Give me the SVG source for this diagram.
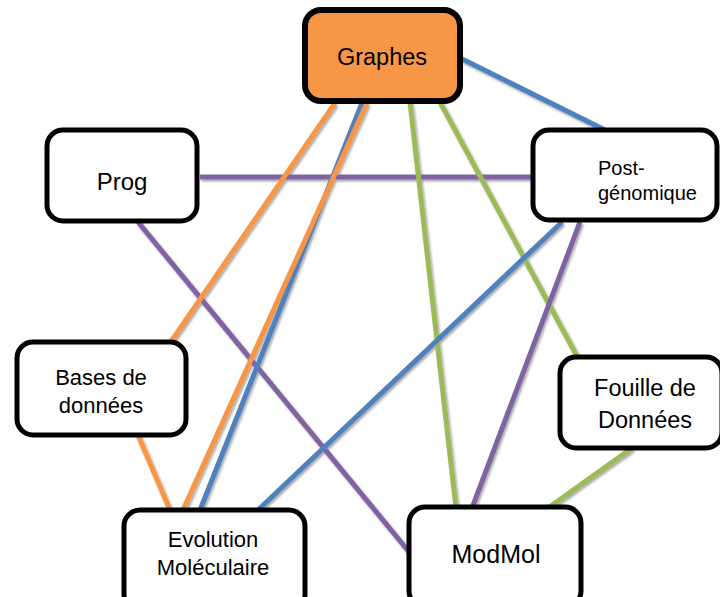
<svg xmlns="http://www.w3.org/2000/svg" width="720" height="597" viewBox="0 0 720 597">
<defs>
<filter id="sh" x="-10%" y="-10%" width="120%" height="120%">
<feDropShadow dx="1.5" dy="2" stdDeviation="1.2" flood-color="#000" flood-opacity="0.35"/>
</filter>
</defs>
<style>
.box{fill:#fff;stroke:#000;stroke-width:5}
.hub{fill:#F79646;stroke:#000;stroke-width:6}
.t{font-family:"Liberation Sans","Open Sans",sans-serif;fill:#000;font-size:22px;text-anchor:middle}
.c{stroke-width:5;fill:none;stroke-linecap:butt}
.o{stroke:#F79646}.b{stroke:#4F81BD}.g{stroke:#9BBB59}.p{stroke:#8064A2}
</style>
<rect width="720" height="597" fill="#fff"/>
<g id="connectors" filter="url(#sh)">
<line class="c b" x1="460" y1="58" x2="605" y2="130"/>
<line class="c p" x1="200" y1="177" x2="532" y2="177"/>
<line class="c p" x1="138" y1="222" x2="410" y2="553"/>
<line class="c o" x1="335" y1="103" x2="170" y2="343"/>
<line class="c b" x1="362" y1="103" x2="200" y2="510"/>
<line class="c o" x1="367" y1="103" x2="183" y2="510"/>
<line class="c g" x1="410" y1="102" x2="456" y2="508"/>
<line class="c g" x1="440" y1="102" x2="578" y2="358"/>
<line class="c b" x1="562" y1="222" x2="258" y2="510"/>
<line class="c p" x1="580" y1="222" x2="472" y2="508"/>
<line class="c g" x1="632" y1="448" x2="548" y2="508"/>
<line class="c o" x1="138" y1="435" x2="170" y2="510"/>
</g>
<g id="graphes">
<rect class="hub" x="305" y="10" width="155" height="91" rx="16"/>
<text class="t" x="382" y="65" style="font-size:23.5px">Graphes</text>
</g>
<g id="prog">
<rect class="box" x="47" y="130" width="150" height="91" rx="16"/>
<text class="t" x="122" y="190" style="font-size:24px">Prog</text>
</g>
<g id="postgenomique">
<rect class="box" x="533" y="130" width="184" height="90" rx="16"/>
<text class="t" x="598" y="175" style="text-anchor:start;font-size:20px">Post-</text>
<text class="t" x="598" y="200" style="text-anchor:start;font-size:20px">génomique</text>
</g>
<g id="bases">
<rect class="box" x="17" y="342" width="169" height="93" rx="16"/>
<text class="t" x="101" y="385">Bases de</text>
<text class="t" x="101" y="413">données</text>
</g>
<g id="fouille">
<rect class="box" x="560" y="357" width="162" height="91" rx="16"/>
<text class="t" x="645" y="396" style="font-size:23.5px">Fouille de</text>
<text class="t" x="645" y="428" style="font-size:23.5px">Données</text>
</g>
<g id="evolution">
<rect class="box" x="124" y="510" width="181" height="100" rx="16"/>
<text class="t" x="213" y="547" style="font-size:22px">Evolution</text>
<text class="t" x="213" y="575" style="font-size:22px">Moléculaire</text>
</g>
<g id="modmol">
<rect class="box" x="409" y="507" width="172" height="100" rx="16"/>
<text class="t" x="496" y="563" style="font-size:25px">ModMol</text>
</g>
</svg>
